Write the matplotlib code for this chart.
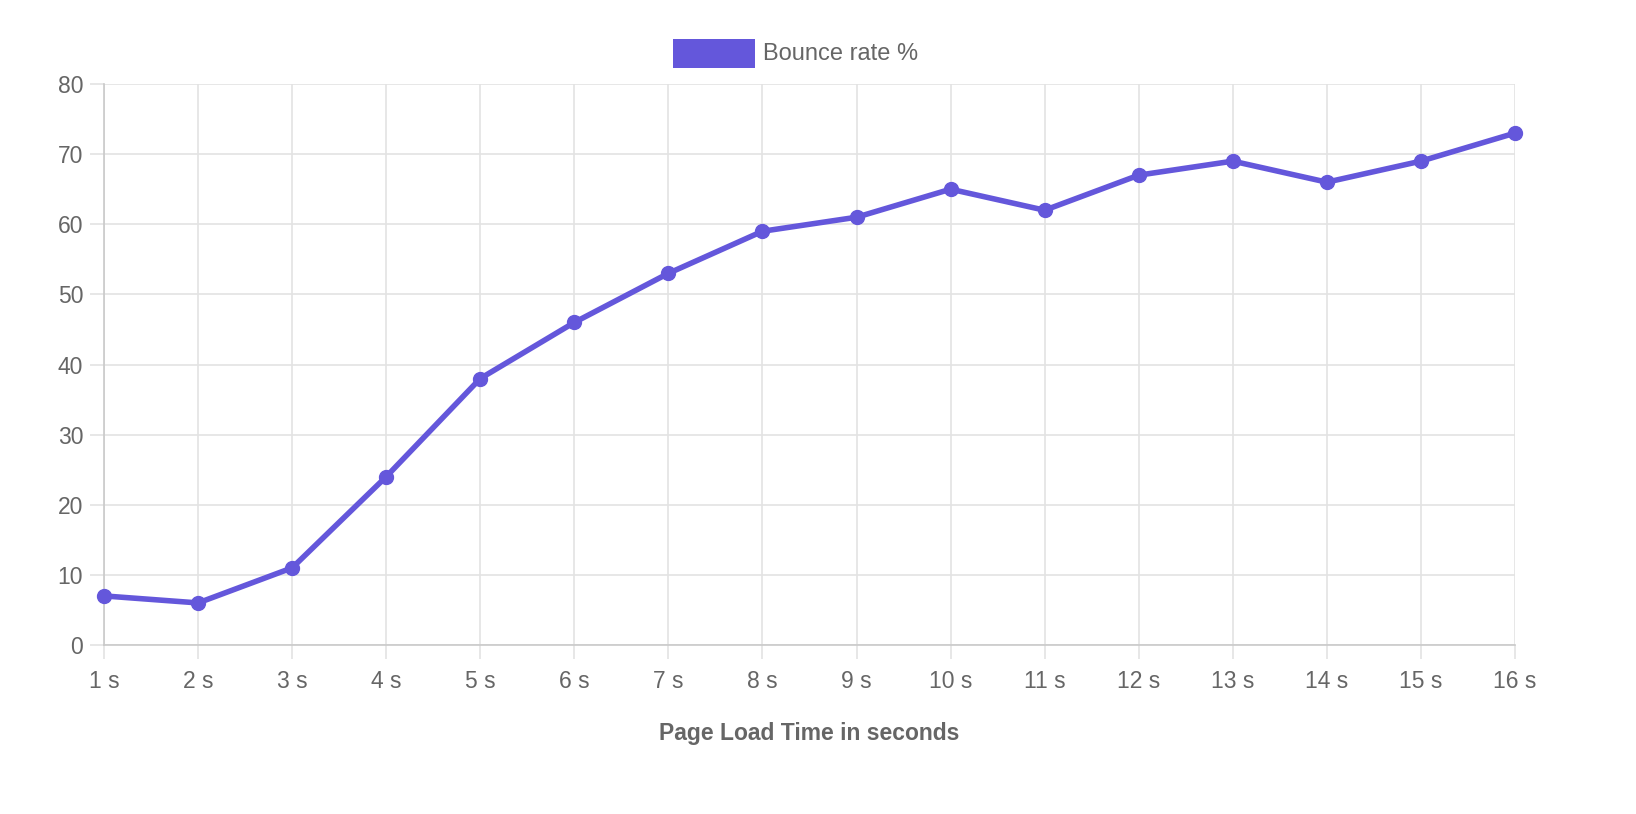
import matplotlib.pyplot as plt

labels = ['1 s', '2 s', '3 s', '4 s', '5 s', '6 s', '7 s', '8 s',
          '9 s', '10 s', '11 s', '12 s', '13 s', '14 s', '15 s', '16 s']
bounce = [7, 6, 11, 24, 38, 46, 53, 59, 61, 65, 62, 67, 69, 66, 69, 73]
y_ticks = [0, 10, 20, 30, 40, 50, 60, 70, 80]

color = '#6457db'
plt.rcParams['font.family'] = ['Liberation Sans', 'DejaVu Sans']

fig = plt.figure(figsize=(16.36, 8.14), dpi=100)
ax = fig.add_axes([104 / 1636, 1 - 645 / 814, (1515 - 104) / 1636, (645 - 84) / 814])

x = list(range(len(labels)))
ax.plot(x, bounce, color=color, linewidth=4, marker='o', markersize=10,
        solid_joinstyle='round', clip_on=False, zorder=3)

ax.set_xlim(0, len(labels) - 1)
ax.set_ylim(0, 80)
ax.set_xticks(x)
ax.set_xticklabels(labels)
ax.set_yticks(y_ticks)

ax.grid(True, color='#e3e3e3', linewidth=1.2)
ax.set_axisbelow(True)
for side in ['top', 'right']:
    ax.spines[side].set_visible(False)
for side in ['left', 'bottom']:
    ax.spines[side].set_color('#c9c9c9')
    ax.spines[side].set_linewidth(1.2)

ax.tick_params(axis='both', colors='#e3e3e3', labelcolor='#666666',
               labelsize=16.5, length=10, width=1.2, pad=5)
ax.tick_params(axis='x', pad=8)

ax.set_xlabel('Page Load Time in seconds', fontsize=16.5, fontweight='bold',
              color='#666666', labelpad=21)

# legend box + label
fig.patches.append(plt.Rectangle((673 / 1636, 1 - 68 / 814), 82 / 1636, 29 / 814,
                                 transform=fig.transFigure, facecolor=color,
                                 edgecolor='none'))
fig.text(763 / 1636, 1 - 54 / 814, 'Bounce rate %', fontsize=17,
         color='#666666', va='center', ha='left')

fig.savefig('out.png', dpi=100)
